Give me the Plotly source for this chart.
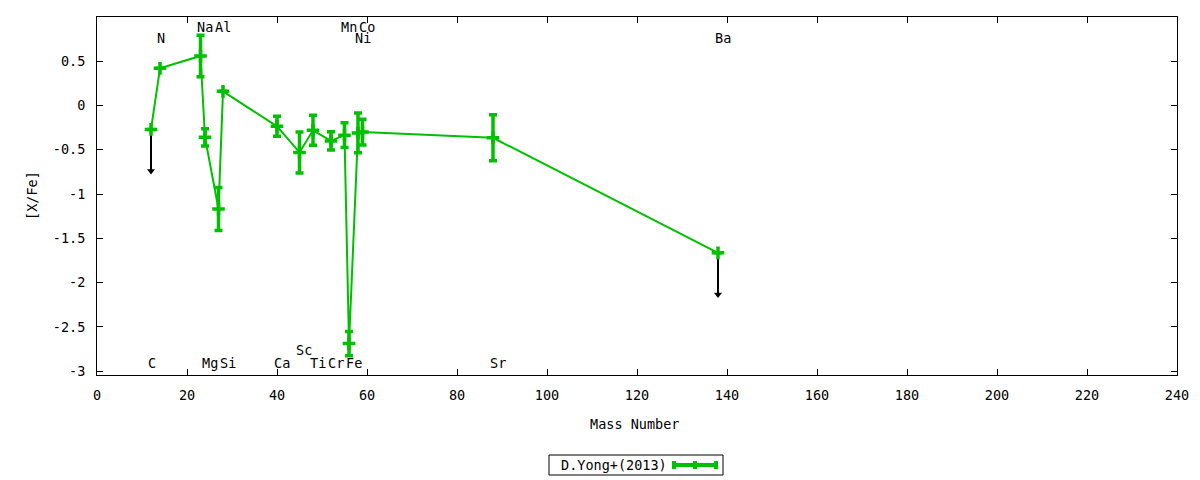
import plotly.graph_objects as go

# ---- data ----
elements = ["C", "N", "Na", "Mg", "Al", "Si", "Ca", "Sc", "Ti", "Cr",
            "Mn", "Fe", "Ni", "Co", "Sr", "Ba"]
mass_number = [12, 14, 23, 24, 27, 28, 40, 45, 48, 52, 55, 56, 58, 59, 88, 138]
x_fe = [-0.27, 0.42, 0.56, -0.36, -1.17, 0.16, -0.235, -0.53, -0.28, -0.40,
        -0.335, -2.69, -0.31, -0.30, -0.365, -1.665]
x_fe_err = [0, 0, 0.235, 0.098, 0.243, 0, 0.113, 0.232, 0.17, 0.103,
            0.14, 0.137, 0.225, 0.145, 0.26, 0]
upper_limit = [True, False, False, False, False, False, False, False, False, False,
               False, False, False, False, False, True]
label_y = [-2.91, 0.76, 0.885, -2.91, 0.885, -2.91, -2.91, -2.76, -2.91, -2.91,
           0.885, -2.91, 0.76, 0.885, -2.91, 0.76]
series_name = "D.Yong+(2013)"

y_tickvals = [-3, -2.5, -2, -1.5, -1, -0.5, 0, 0.5]
y_ticktext = ["-3", "-2.5", "-2", "-1.5", "-1", "-0.5", "0", "0.5"]
x_tickvals = list(range(0, 241, 20))

GREEN = "#00c000"
FONT = "DejaVu Sans Mono"
FS = 13.5
ARROW_LEN = 0.5

fig = go.Figure()

# upper-limit arrows (black)
ax_x, ax_y, head_x, head_y = [], [], [], []
for m, v, ul in zip(mass_number, x_fe, upper_limit):
    if ul:
        ax_x += [m, m, None]
        ax_y += [v, v - ARROW_LEN + 0.03, None]
        head_x.append(m)
        head_y.append(v - ARROW_LEN + 0.03)
fig.add_trace(go.Scatter(x=ax_x, y=ax_y, mode="lines",
                         line=dict(color="black", width=2),
                         showlegend=False, hoverinfo="skip"))
fig.add_trace(go.Scatter(x=head_x, y=head_y, mode="markers",
                         marker=dict(symbol="triangle-down", size=7, color="black"),
                         showlegend=False, hoverinfo="skip"))

# main series
fig.add_trace(go.Scatter(
    x=mass_number, y=x_fe, mode="lines+markers", name=series_name,
    line=dict(color=GREEN, width=2),
    marker=dict(symbol="cross-thin", size=9, color=GREEN,
                line=dict(color=GREEN, width=3.5)),
    error_y=dict(type="data", array=x_fe_err, visible=True,
                 color=GREEN, thickness=3.5, width=4),
    showlegend=False,
))

# element labels
for el, m, ly in zip(elements, mass_number, label_y):
    fig.add_annotation(x=m - 1.0, y=ly, text=el, showarrow=False,
                       xanchor="left", yanchor="middle", borderpad=0,
                       font=dict(family=FONT, size=FS, color="black"))

# axis titles
fig.add_annotation(xref="paper", yref="paper", x=(634 - 97) / 1080, y=(375 - 424) / 358,
                   text="Mass Number", showarrow=False, xanchor="center", yanchor="middle",
                   font=dict(family=FONT, size=FS, color="black"))
fig.add_annotation(xref="paper", yref="paper", x=(32 - 97) / 1080, y=0.5,
                   text="[X/Fe]", showarrow=False, textangle=-90,
                   xanchor="center", yanchor="middle",
                   font=dict(family=FONT, size=FS, color="black"))

# custom legend (text then errorbar sample, inside a box)
def px_x(p):
    return (p - 97) / 1080

def px_y(p):
    return (375 - p) / 358

fig.add_shape(type="rect", xref="paper", yref="paper",
              x0=px_x(549), x1=px_x(723), y0=px_y(475), y1=px_y(455),
              line=dict(color="black", width=1), fillcolor="white")
fig.add_annotation(xref="paper", yref="paper", x=px_x(614), y=px_y(465),
                   text=series_name, showarrow=False, xanchor="center", yanchor="middle",
                   font=dict(family=FONT, size=FS, color="black"))
fig.add_shape(type="line", xref="paper", yref="paper",
              x0=px_x(674), x1=px_x(716), y0=px_y(465), y1=px_y(465),
              line=dict(color=GREEN, width=4))
for cx in (674, 716, 695):
    fig.add_shape(type="line", xref="paper", yref="paper",
                  x0=px_x(cx), x1=px_x(cx), y0=px_y(461), y1=px_y(469),
                  line=dict(color=GREEN, width=4))

fig.update_layout(
    width=1200, height=480,
    margin=dict(l=97, r=23, t=17, b=105, autoexpand=False),
    paper_bgcolor="white", plot_bgcolor="white",
    font=dict(family=FONT, size=FS, color="black"),
    showlegend=False,
)
fig.update_xaxes(range=[0, 240], tickvals=x_tickvals,
                 ticks="inside", ticklen=6, tickwidth=1, tickcolor="black",
                 showline=True, linecolor="black", linewidth=1, mirror="ticks",
                 showgrid=False, zeroline=False, ticklabelstandoff=8,
                 tickfont=dict(family=FONT, size=FS, color="black"))
fig.update_yaxes(range=[-3.045, 1.0], tickvals=y_tickvals, ticktext=y_ticktext,
                 ticks="inside", ticklen=6, tickwidth=1, tickcolor="black",
                 showline=True, linecolor="black", linewidth=1, mirror="ticks",
                 showgrid=False, zeroline=False, ticklabelstandoff=8,
                 tickfont=dict(family=FONT, size=FS, color="black"))

fig.write_html("out.html", config={"displayModeBar": False},
               post_script="document.body.style.margin='0';document.body.style.padding='0';")
